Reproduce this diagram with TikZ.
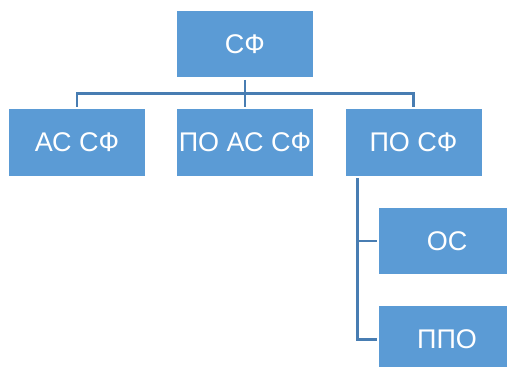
\documentclass[tikz,border=0pt]{standalone}
\usepackage{fontspec}
\setmainfont{Liberation Sans}
\usepackage{tikz}
\usetikzlibrary{calc}
\definecolor{boxblue}{RGB}{91, 155, 213}
\definecolor{lineblue}{RGB}{72, 125, 178}
\tikzset{
  unit/.style = {fill = boxblue, text = white, minimum width = 136pt, minimum height = 66.5pt,
    inner sep = 0pt, outer sep = 2.5pt, font = \fontsize{27}{32}\selectfont},
  link/.style = {draw = lineblue, line width = 2.5pt}
}

\begin{document}
\begin{tikzpicture}[x = 1pt, y = -1pt]
\useasboundingbox (0, 0) rectangle (507, 367);
\clip (0, 0) rectangle (507, 367);

\node[unit] (sf) at (245, 44) {СФ};
\node[unit] (as) at (77, 142.5) {АС СФ};
\node[unit] (poas) at (245, 142.5) {ПО АС СФ};
\node[unit] (posf) at (413.5, 142.5) {ПО СФ};
\node[unit] (os) at (447, 241) {ОС};
\node[unit] (ppo) at (447, 339.5) {ППО};

% top level
\coordinate (bus) at ($(sf.south)!0.5!(poas.north)$);
\draw[link] (sf.south) -- (poas.north);
\draw[link] (as.north) |- (bus) -| (posf.north);

% under ПО СФ
\coordinate (trunk) at ($(posf.south west) + (14.5, 0)$);
\draw[link] (trunk) |- (ppo.west);
\draw[link] (trunk |- os.west) -- (os.west);
\end{tikzpicture}
\end{document}
